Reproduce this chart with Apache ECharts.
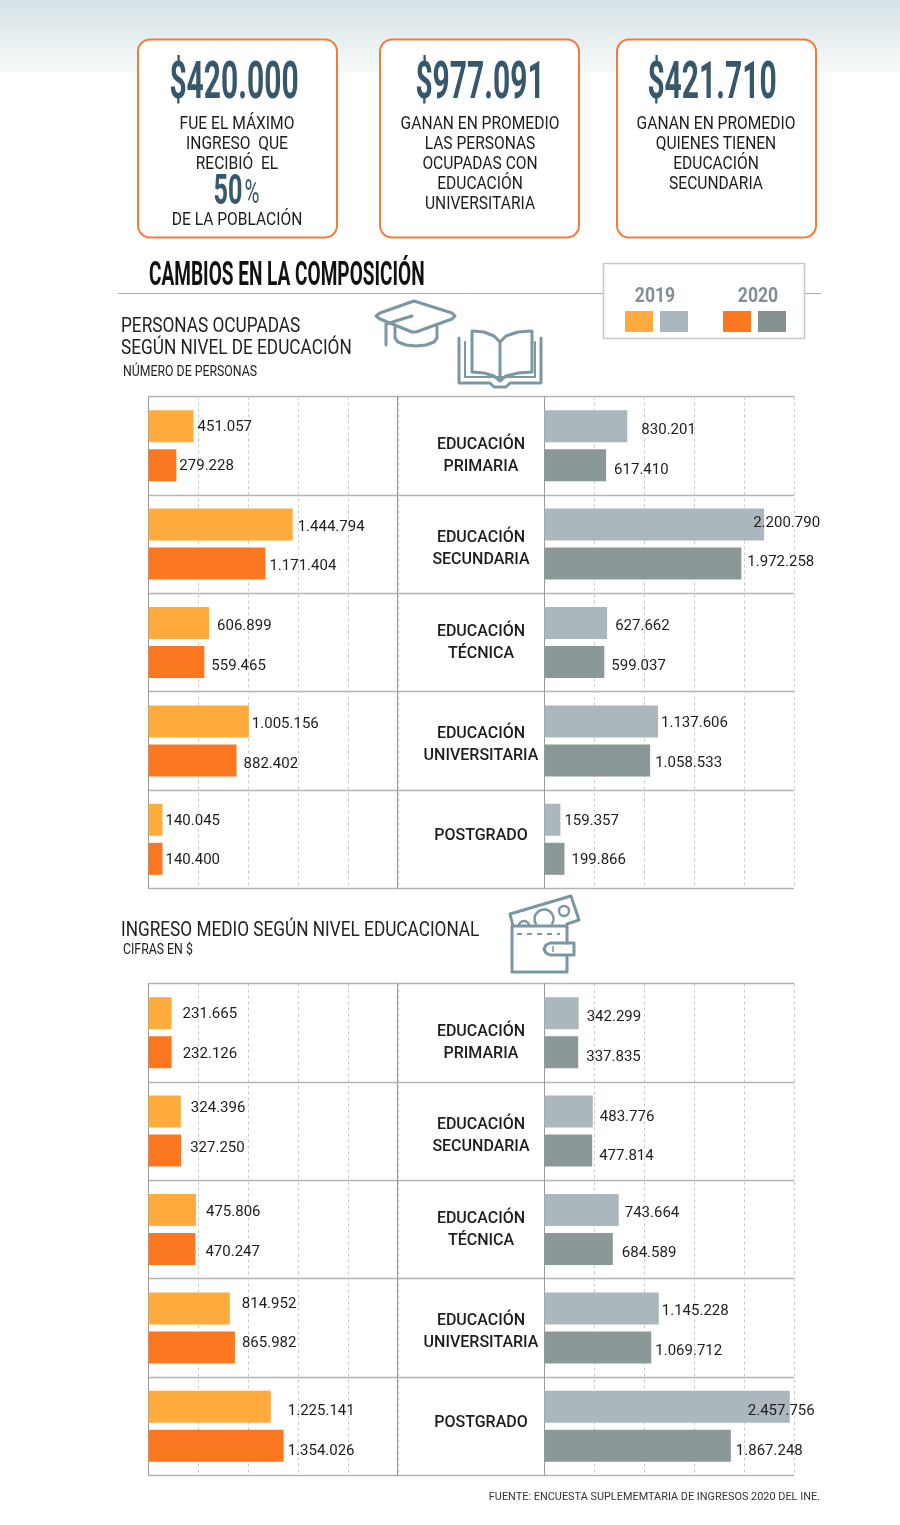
<!DOCTYPE html>
<html>
<head>
<meta charset="utf-8">
<style>html,body{margin:0;padding:0;background:#fff}#c{width:900px;height:1525px}</style>
<script src="https://cdn.jsdelivr.net/npm/echarts@6/dist/echarts.min.js"></script>
</head>
<body>
<div id="c"></div>
<script>
const categories = ['EDUCACIÓN\nPRIMARIA','EDUCACIÓN\nSECUNDARIA','EDUCACIÓN\nTÉCNICA','EDUCACIÓN\nUNIVERSITARIA','POSTGRADO'];

const people2019a = [451057,1444794,606899,1005156,140045];
const people2020a = [279228,1171404,559465,882402,140400];
const people2019b = [830201,2200790,627662,1137606,159357];
const people2020b = [617410,1972258,599037,1058533,199866];

const income2019a = [231665,324396,475806,814952,1225141];
const income2020a = [232126,327250,470247,865982,1354026];
const income2019b = [342299,483776,743664,1145228,2457756];
const income2020b = [337835,477814,684589,1069712,1867248];

const FN = 'Roboto,sans-serif';
const ORANGE_L='#ffab3e', ORANGE_D='#fb7720', GREY_L='#aab8bd', GREY_D='#8b9898';
const INK='#1d1d1b', SLATE='#37586a', ICON='#7a97a3';

// hand placement of value labels in the source graphic: [dx, dy]
const nudges = {
  p19a:[[4,1],[5,3],[8,3],[3,3],[3,1]],
  p20a:[[3,1],[4,3],[7,4],[7,4],[3,1]],
  p19b:[[14,4],[-11,-1],[8,3],[3,2],[4,1]],
  p20b:[[8,5],[6,-1],[7,4],[5,3],[7,1]],
  i19a:[[11,1],[10,-3],[10,2],[12,-4],[17,4]],
  i20a:[[11,2],[9,-2],[10,3],[7,-4],[4,5]],
  i19b:[[8,4],[7,6],[6,3],[3,3],[-42,4]],
  i20b:[[8,5],[7,6],[9,4],[4,4],[5,5]]
};
// vertical shift of the middle-column labels per row
const catShift=[10,5,0,4,-3];

const fmt = v => String(v).replace(/\B(?=(\d{3})+(?!\d))/g,'.');

const grids=[],xAxes=[],yAxes=[],series=[];
const ROW=98.4;

function addGrid(x,w,top,showSplit){
  const idx=grids.length;
  grids.push({left:x,top:top,width:w,height:ROW*5,containLabel:false});
  xAxes.push({type:'value',gridIndex:idx,min:0,max:2500000,interval:500000,
    axisLabel:{show:false},axisLine:{show:false},axisTick:{show:false},
    splitLine:{show:showSplit,lineStyle:{color:'#c9c9c9',type:[3,3],width:1}}});
  yAxes.push({type:'category',gridIndex:idx,inverse:true,data:categories,
    axisTick:{show:false},
    axisLine:{show:true,onZero:false,lineStyle:{color:'#9a9a9a',width:1}},
    axisLabel:{show:false},
    splitLine:{show:true,lineStyle:{color:'#b4b4b4',width:1.4}}});
  return idx;
}
function addBar(idx,name,data,color,nudge){
  series.push({type:'bar',name:name,xAxisIndex:idx,yAxisIndex:idx,
    barWidth:32,barGap:'22%',
    itemStyle:{color:color},
    data:data.map((v,i)=>({value:v,label:{offset:nudge[i]}})),
    label:{show:true,position:'right',distance:0,formatter:p=>fmt(p.value),
      fontFamily:FN,fontSize:15,color:INK},
    silent:true,animation:false});
}
function addNames(idx){
  series.push({type:'bar',name:'categoria',xAxisIndex:idx,yAxisIndex:idx,silent:true,animation:false,
    itemStyle:{color:'transparent'},
    data:categories.map((c,i)=>({value:0,label:{offset:[84,catShift[i]]}})),
    label:{show:true,position:'right',distance:0,align:'center',formatter:p=>p.name,
      fontFamily:FN,fontWeight:500,fontSize:16,lineHeight:22,color:INK}});
}
function panel(top,a19,a20,b19,b20,na19,na20,nb19,nb20){
  const L=addGrid(148.5,249.5,top,true);
  addBar(L,'2019',a19,ORANGE_L,na19);
  addBar(L,'2020',a20,ORANGE_D,na20);
  const M=addGrid(397,147.5,top,false);
  addNames(M);
  const R=addGrid(544.5,249.5,top,true);
  addBar(R,'2019',b19,GREY_L,nb19);
  addBar(R,'2020',b20,GREY_D,nb20);
}
panel(396.5,people2019a,people2020a,people2019b,people2020b,nudges.p19a,nudges.p20a,nudges.p19b,nudges.p20b);
panel(983.5,income2019a,income2020a,income2019b,income2020b,nudges.i19a,nudges.i20a,nudges.i19b,nudges.i20b);

function T(text,x,y,size,o){
  o=o||{};
  return {type:'text',x:x,y:y,scaleX:o.sx||1,scaleY:o.sy||1,z:o.z||5,silent:true,
    style:{text:text,align:o.align||'center',verticalAlign:'middle',
      font:(o.weight||'normal')+' '+size+'px '+(o.family||FN),fill:o.color||INK}};
}
function box(x){
  return {type:'rect',z:2,silent:true,shape:{x:x,y:39.5,width:199,height:198,r:12},
    style:{fill:'#fff',stroke:'#f47a36',lineWidth:2}};
}
function pl(pts,w){
  return {type:'polyline',z:3,silent:true,shape:{points:pts},
    style:{fill:'none',stroke:ICON,lineWidth:w||3,lineJoin:'round',lineCap:'round'}};
}
function arc(cx,cy,r,a0,a1,w){
  return {type:'arc',z:3,silent:true,shape:{cx:cx,cy:cy,r:r,startAngle:a0,endAngle:a1,clockwise:true},
    style:{fill:'none',stroke:ICON,lineWidth:w||2.5}};
}
function big(t,x){return T(t,x,85,50,{weight:'bold',color:SLATE,sx:0.6,sy:1.02});}
function lines(arr,x,y0){return arr.map((s,i)=>T(s,x,y0+i*20,19,{sx:0.82}));}

const graphic=[
  {type:'rect',z:0,silent:true,shape:{x:0,y:0,width:900,height:72},
    style:{fill:{type:'linear',x:0,y:0,x2:0,y2:1,colorStops:[{offset:0,color:'#d5e2e7'},{offset:1,color:'#f8fafa'}]}}},
  box(138),box(380),box(617),
  big('$420.000',234),big('$977.091',480),big('$421.710',712),
  ...lines(['FUE EL MÁXIMO','INGRESO  QUE','RECIBIÓ  EL'],237,124),
  T('50',228,193,42,{weight:'bold',color:SLATE,sx:0.6}),
  T('%',252,194,34,{color:SLATE,sx:0.6}),
  T('DE LA POBLACIÓN',237,220,19,{sx:0.82}),
  ...lines(['GANAN EN PROMEDIO','LAS PERSONAS','OCUPADAS CON','EDUCACIÓN','UNIVERSITARIA'],480,124),
  ...lines(['GANAN EN PROMEDIO','QUIENES TIENEN','EDUCACIÓN','SECUNDARIA'],716,124),

  T('CAMBIOS EN LA COMPOSICIÓN',149,276,34,{align:'left',weight:'bold',color:'#111',sx:0.56}),
  {type:'line',z:1,silent:true,shape:{x1:118,y1:293.5,x2:821,y2:293.5},style:{stroke:'#ababab',lineWidth:1}},
  {type:'rect',z:2,silent:true,shape:{x:603.5,y:263.5,width:201,height:75},style:{fill:'#fff',stroke:'#c4c8c9',lineWidth:1.5}},
  T('2019',655,297,20,{weight:'bold',color:'#7f8f94',sx:0.88}),
  T('2020',758,297,20,{weight:'bold',color:'#7f8f94',sx:0.88}),
  {type:'rect',z:3,silent:true,shape:{x:625,y:311,width:28,height:21},style:{fill:ORANGE_L}},
  {type:'rect',z:3,silent:true,shape:{x:660,y:311,width:28,height:21},style:{fill:GREY_L}},
  {type:'rect',z:3,silent:true,shape:{x:723,y:311,width:28,height:21},style:{fill:ORANGE_D}},
  {type:'rect',z:3,silent:true,shape:{x:758,y:311,width:28,height:21},style:{fill:'#859191'}},

  T('PERSONAS OCUPADAS',121,327,21,{align:'left',color:'#222',sx:0.82}),
  T('SEGÚN NIVEL DE EDUCACIÓN',121,349,21,{align:'left',color:'#222',sx:0.82}),
  T('NÚMERO DE PERSONAS',123,372,15,{align:'left',color:'#222',sx:0.82}),
  T('INGRESO MEDIO SEGÚN NIVEL EDUCACIONAL',121,931,21,{align:'left',color:'#222',sx:0.82}),
  T('CIFRAS EN $',123,950,15,{align:'left',color:'#222',sx:0.82}),
  T('FUENTE: ENCUESTA SUPLEMEMTARIA DE INGRESOS 2020 DEL INE.',820,1497,10,{align:'right',color:'#333',sx:1.09}),

  // graduation cap
  pl([[414,301],[452,313],[455,316],[452,319],[416,332],[412,332],[380,319],[376,316],[380,313],[414,301]]),
  pl([[395,326],[395,338],[398,342],[406,345],[416,346],[426,345],[434,342],[437,338],[437,326]]),
  pl([[412,316],[386,324],[386,345]]),
  // open book
  pl([[500,342],[494,336],[484,332],[472,331],[472,372],[484,373],[494,376],[500,381],[506,376],[518,373],[532,372],[532,331],[518,332],[506,336],[500,342],[500,381]]),
  pl([[459,338],[459,383],[490,383],[494,387],[506,387],[510,383],[541,383],[541,338]]),
  pl([[465,342],[465,377],[535,377],[535,342]],2),
  // wallet and banknote
  pl([[567,943],[567,926],[512,926],[512,972],[567,972],[567,956]]),
  pl([[574,943],[550,943],[546,945],[544,949],[546,953],[550,955],[574,955],[574,943]]),
  pl([[513,926],[510,914],[571,896],[579,920],[567,924]]),
  arc(544,919,9.5,2.5,0.64),
  arc(524,926,5,Math.PI,0),
  arc(564,911,5,0,Math.PI*2),
  {type:'line',z:3,silent:true,shape:{x1:517,y1:934,x2:560,y2:934},style:{stroke:ICON,lineWidth:2,lineDash:[5,5]}},
  {type:'line',z:3,silent:true,shape:{x1:553,y1:946,x2:553,y2:952},style:{stroke:ICON,lineWidth:1.5}}
];

const chart=echarts.init(document.getElementById('c'),null,{renderer:'canvas'});
chart.setOption({animation:false,backgroundColor:'#fff',grid:grids,xAxis:xAxes,yAxis:yAxes,series:series,graphic:{elements:graphic}});
</script>
</body>
</html>
